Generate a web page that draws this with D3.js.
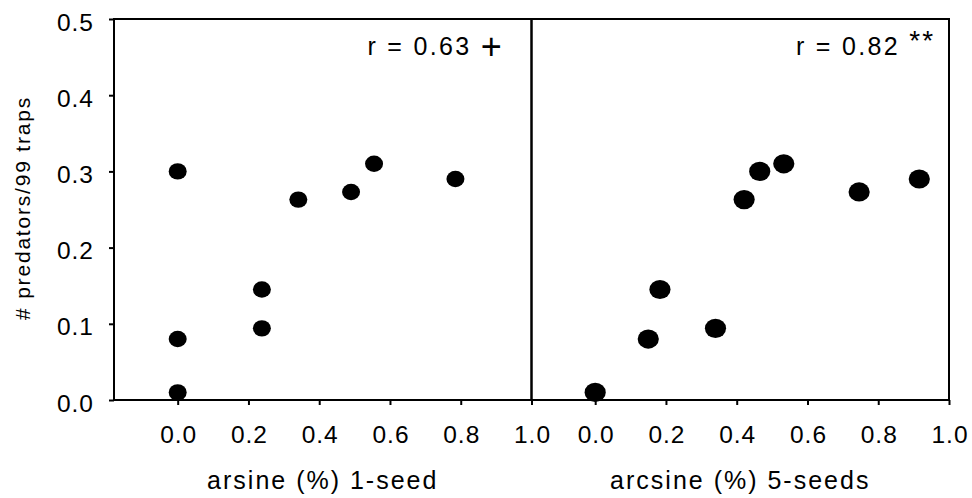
<!DOCTYPE html>
<html>
<head>
<meta charset="utf-8">
<script src="https://cdn.jsdelivr.net/npm/d3@7"></script>
<style>
    body { margin: 0; background: white; }
    svg { display: block; font-family: Arial, 'Liberation Sans', sans-serif; }
</style>
</head>
<body>
<div class="box"></div>
<script>
const width = 972;
const height = 498;

// panel 1: 1-seed, panel 2: 5-seeds
const seed1X = [0, 0, 0, 0.238, 0.238, 0.341, 0.49, 0.555, 0.785];
const seed1Y = [0.30, 0.08, 0.01, 0.145, 0.094, 0.263, 0.273, 0.31, 0.29];
const seed5X = [0, 0.15, 0.183, 0.34, 0.421, 0.465, 0.533, 0.746, 0.916];
const seed5Y = [0.01, 0.08, 0.145, 0.094, 0.263, 0.30, 0.31, 0.273, 0.29];

const xTicks = [0, 0.2, 0.4, 0.6, 0.8, 1.0];
const yTicks = [0, 0.1, 0.2, 0.3, 0.4, 0.5];
const xTitles = ['arsine (%) 1-seed', 'arcsine (%) 5-seeds'];
const rValues = ['r = 0.63', 'r = 0.82'];
const rSignif = ['+', '**'];
const yTitle = '# predators/99 traps';

const plotLeft = 114;
const plotTop = 19;
const plotBottom = 400;
const panelW = 417.5;

const svg = d3
    .select('.box')
    .append('svg')
    .attr('width', width)
    .attr('height', height)
    .style('background-color', 'white');

const y = d3.scaleLinear().domain([0, 0.5]).range([plotBottom, plotTop]);

const panels = [
    { xs: seed1X, ys: seed1Y, rx: 9, ry: 8.2 },
    { xs: seed5X, ys: seed5Y, rx: 10.6, ry: 9.6 },
];

panels.forEach((p, i) => {
    const x0 = plotLeft + i * panelW;
    const x = d3
        .scaleLinear()
        .domain([-0.18, 1.0])
        .range([x0, x0 + panelW]);

    const xAxis = svg
        .append('g')
        .attr('transform', `translate(0,${plotBottom})`)
        .call(
            d3
                .axisBottom(x)
                .tickValues(xTicks)
                .tickFormat(d3.format('.1f'))
                .tickSize(5)
                .tickPadding(21)
        );
    xAxis.select('.domain').remove();
    xAxis.selectAll('line').attr('stroke', '#000').attr('stroke-width', 2);
    xAxis
        .selectAll('text')
        .attr('fill', '#000')
        .attr('font-size', '24.5px')
        .attr('font-family', 'Arial, Liberation Sans, sans-serif')
        .attr('letter-spacing', '1px')
        .attr('dx', '0.5px');

    svg.append('rect')
        .attr('x', x0)
        .attr('y', plotTop)
        .attr('width', panelW)
        .attr('height', plotBottom - plotTop)
        .attr('fill', 'none')
        .attr('stroke', '#000')
        .attr('stroke-width', 2);

    svg.append('g')
        .selectAll('ellipse')
        .data(p.xs.map((v, k) => [v, p.ys[k]]))
        .enter()
        .append('ellipse')
        .attr('cx', (d) => x(d[0]))
        .attr('cy', (d) => y(d[1]))
        .attr('rx', p.rx)
        .attr('ry', p.ry)
        .attr('fill', '#000');

    svg.append('text')
        .attr('x', x0 + panelW / 2)
        .attr('y', 489)
        .attr('text-anchor', 'middle')
        .attr('font-size', '25px')
        .attr('letter-spacing', '2px')
        .attr('fill', '#000')
        .text(xTitles[i]);

    const ann = svg
        .append('text')
        .attr('x', x0 + panelW - (i === 0 ? 164 : 153))
        .attr('y', 55)
        .attr('font-size', '25px')
        .attr('letter-spacing', '2.3px')
        .attr('fill', '#000');
    ann.append('tspan').text(rValues[i] + ' ');
    if (i === 0) {
        ann.append('tspan')
            .attr('font-size', '36px')
            .attr('dy', 4)
            .text(rSignif[i]);
    } else {
        ann.append('tspan')
            .attr('font-size', '28px')
            .attr('dy', -5)
            .text(rSignif[i]);
    }
});

const yAxis = svg
    .append('g')
    .attr('transform', `translate(${plotLeft},0)`)
    .call(
        d3
            .axisLeft(y)
            .tickValues(yTicks)
            .tickFormat(d3.format('.1f'))
            .tickSize(5)
            .tickPadding(15)
    );
yAxis.select('.domain').remove();
yAxis.selectAll('line').attr('stroke', '#000').attr('stroke-width', 2);
yAxis
    .selectAll('text')
    .attr('fill', '#000')
    .attr('font-size', '24.5px')
    .attr('font-family', 'Arial, Liberation Sans, sans-serif')
    .attr('letter-spacing', '1px')
    .attr('dy', '11px');

svg.append('text')
    .attr('transform', 'translate(30,208) rotate(-90)')
    .attr('text-anchor', 'middle')
    .attr('font-size', '21px')
    .attr('letter-spacing', '1.8px')
    .attr('fill', '#000')
    .text(yTitle);
</script>
</body>
</html>
